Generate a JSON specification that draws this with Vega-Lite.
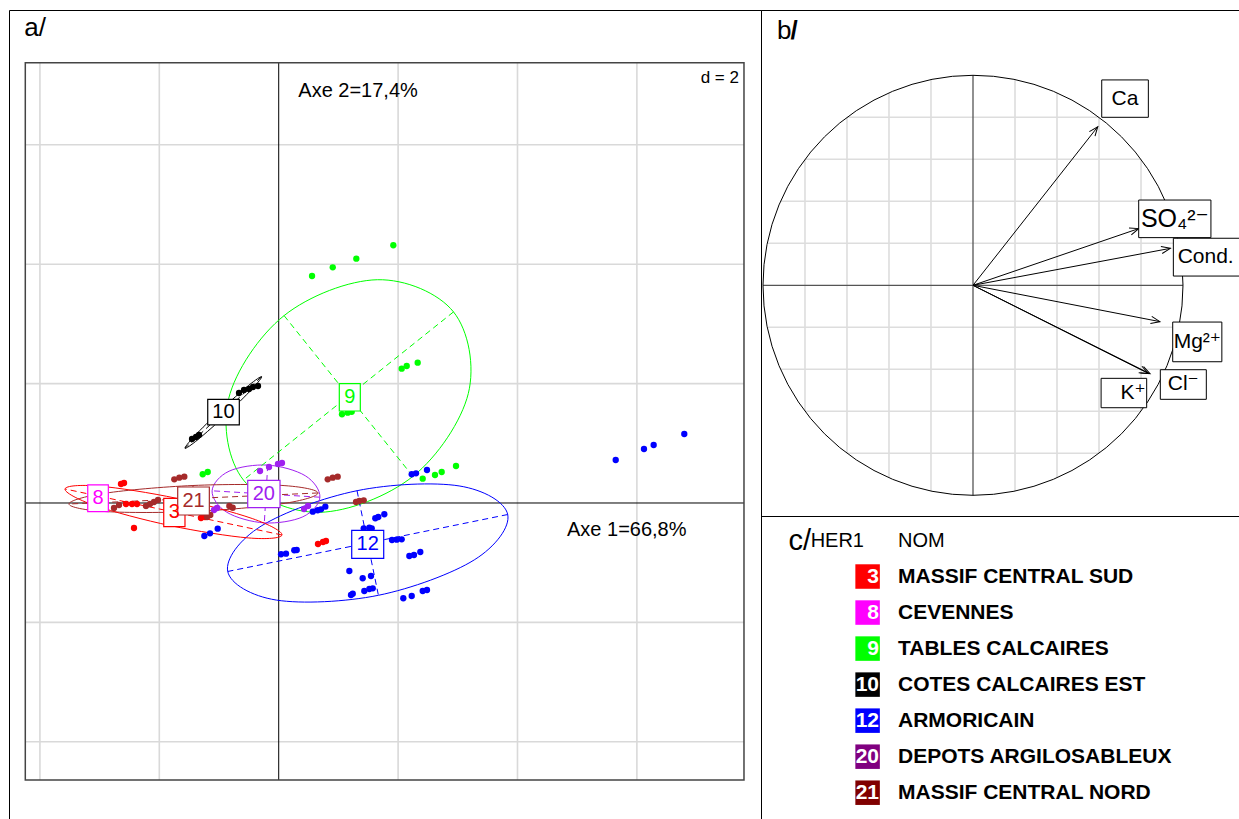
{
  "$schema": "https://vega.github.io/schema/vega-lite/v6.json",
  "background": "white",
  "padding": {"left": 8, "top": 9, "right": 0, "bottom": 0},
  "autosize": {"type": "pad"},
  "config": {
    "view": {"stroke": "#000000", "strokeWidth": 1},
    "concat": {"spacing": 0},
    "font": "Liberation Sans"
  },
  "datasets": {
    "pts": [
      {"g": "8", "x": -3.06, "y": 0.084}, {"g": "8", "x": -2.993, "y": 0.067},
      {"g": "3", "x": -2.642, "y": 0.318}, {"g": "3", "x": -2.591, "y": 0.335}, {"g": "3", "x": -2.558, "y": -0.017}, {"g": "3", "x": -2.457, "y": -0.017}, {"g": "3", "x": -2.374, "y": -0.017}, {"g": "3", "x": -2.424, "y": -0.419}, {"g": "3", "x": -1.302, "y": -0.251}, {"g": "3", "x": -1.235, "y": -0.235}, {"g": "3", "x": 0.658, "y": -0.687}, {"g": "3", "x": 0.742, "y": -0.653}, {"g": "3", "x": 0.792, "y": -0.637},
      {"g": "9", "x": 0.558, "y": 3.802}, {"g": "9", "x": 0.905, "y": 3.948}, {"g": "9", "x": 1.3, "y": 4.092}, {"g": "9", "x": 1.92, "y": 4.317}, {"g": "9", "x": 2.06, "y": 2.25}, {"g": "9", "x": 2.144, "y": 2.295}, {"g": "9", "x": 2.328, "y": 2.35}, {"g": "9", "x": 1.06, "y": 1.486}, {"g": "9", "x": 1.156, "y": 1.513}, {"g": "9", "x": 1.223, "y": 1.529}, {"g": "9", "x": 2.412, "y": 0.407}, {"g": "9", "x": 2.618, "y": 0.469}, {"g": "9", "x": 2.73, "y": 0.519}, {"g": "9", "x": 2.97, "y": 0.62}, {"g": "9", "x": -1.273, "y": 0.481}, {"g": "9", "x": -1.189, "y": 0.519},
      {"g": "10", "x": -0.665, "y": 1.843}, {"g": "10", "x": -0.581, "y": 1.893}, {"g": "10", "x": -0.497, "y": 1.91}, {"g": "10", "x": -0.43, "y": 1.943}, {"g": "10", "x": -0.347, "y": 1.96}, {"g": "10", "x": -1.452, "y": 1.072}, {"g": "10", "x": -1.385, "y": 1.106}, {"g": "10", "x": -1.335, "y": 1.139},
      {"g": "12", "x": 2.228, "y": 0.481}, {"g": "12", "x": 2.3, "y": 0.497}, {"g": "12", "x": 2.484, "y": 0.553}, {"g": "12", "x": 0.57, "y": -0.146}, {"g": "12", "x": 0.653, "y": -0.122}, {"g": "12", "x": 0.709, "y": -0.106}, {"g": "12", "x": 0.781, "y": -0.062}, {"g": "12", "x": 1.618, "y": -0.256}, {"g": "12", "x": 1.668, "y": -0.235}, {"g": "12", "x": 1.769, "y": -0.189}, {"g": "12", "x": 1.424, "y": -0.424}, {"g": "12", "x": 1.518, "y": -0.414}, {"g": "12", "x": 1.558, "y": -0.424}, {"g": "12", "x": 1.898, "y": -0.62}, {"g": "12", "x": 1.977, "y": -0.615}, {"g": "12", "x": 2.06, "y": -0.608}, {"g": "12", "x": 0.039, "y": -0.859}, {"g": "12", "x": 0.122, "y": -0.849}, {"g": "12", "x": 0.261, "y": -0.792}, {"g": "12", "x": 0.302, "y": -0.787}, {"g": "12", "x": 2.188, "y": -0.888}, {"g": "12", "x": 2.266, "y": -0.871}, {"g": "12", "x": 2.372, "y": -0.821}, {"g": "12", "x": 1.183, "y": -1.139}, {"g": "12", "x": 1.407, "y": -1.261}, {"g": "12", "x": 1.546, "y": -1.223}, {"g": "12", "x": 1.24, "y": -1.519}, {"g": "12", "x": 1.211, "y": -1.541}, {"g": "12", "x": 1.434, "y": -1.474}, {"g": "12", "x": 1.518, "y": -1.441}, {"g": "12", "x": 1.575, "y": -1.429}, {"g": "12", "x": 2.087, "y": -1.596}, {"g": "12", "x": 2.228, "y": -1.558}, {"g": "12", "x": 2.412, "y": -1.474}, {"g": "12", "x": 2.484, "y": -1.457}, {"g": "12", "x": -1.246, "y": -0.553}, {"g": "12", "x": -1.151, "y": -0.508}, {"g": "12", "x": -1.022, "y": -0.43}, {"g": "12", "x": 5.645, "y": 0.72}, {"g": "12", "x": 6.119, "y": 0.905}, {"g": "12", "x": 6.281, "y": 0.972}, {"g": "12", "x": 6.794, "y": 1.156},
      {"g": "20", "x": -0.313, "y": 0.536}, {"g": "20", "x": -0.162, "y": 0.603}, {"g": "20", "x": -0.012, "y": 0.653}, {"g": "20", "x": 0.055, "y": 0.67}, {"g": "20", "x": -1.084, "y": -0.117}, {"g": "20", "x": -1.034, "y": -0.084}, {"g": "20", "x": 0.424, "y": -0.101}, {"g": "20", "x": 0.491, "y": -0.05},
      {"g": "21", "x": -1.749, "y": 0.397}, {"g": "21", "x": -1.665, "y": 0.424}, {"g": "21", "x": -1.581, "y": 0.441}, {"g": "21", "x": -2.759, "y": -0.084}, {"g": "21", "x": -2.675, "y": -0.034}, {"g": "21", "x": -2.223, "y": -0.05}, {"g": "21", "x": -2.156, "y": -0.017}, {"g": "21", "x": -2.089, "y": 0.017}, {"g": "21", "x": -2.022, "y": 0.05}, {"g": "21", "x": -0.827, "y": -0.05}, {"g": "21", "x": -0.771, "y": -0.079}, {"g": "21", "x": -1.146, "y": -0.201}, {"g": "21", "x": -1.201, "y": -0.235}, {"g": "21", "x": 0.821, "y": 0.397}, {"g": "21", "x": 0.905, "y": 0.424}, {"g": "21", "x": 0.988, "y": 0.441}, {"g": "21", "x": 1.295, "y": 0.017}, {"g": "21", "x": 1.35, "y": 0.034}, {"g": "21", "x": 1.424, "y": 0.045}
    ],
    "ell": [
      {"g": "9", "i": 0, "x": 2.928, "y": 3.201}, {"g": "9", "i": 1, "x": 1.652, "y": 3.74}, {"g": "9", "i": 2, "x": 0.09, "y": 3.139}, {"g": "9", "i": 3, "x": -0.838, "y": 1.75}, {"g": "9", "i": 4, "x": -0.59, "y": 0.384}, {"g": "9", "i": 5, "x": 0.687, "y": -0.156}, {"g": "9", "i": 6, "x": 2.248, "y": 0.446}, {"g": "9", "i": 7, "x": 3.176, "y": 1.834},
      {"g": "12", "i": 0, "x": 3.836, "y": -0.193}, {"g": "12", "i": 1, "x": 3.022, "y": 0.286}, {"g": "12", "i": 2, "x": 1.312, "y": 0.206}, {"g": "12", "i": 3, "x": -0.295, "y": -0.387}, {"g": "12", "i": 4, "x": -0.854, "y": -1.147}, {"g": "12", "i": 5, "x": -0.04, "y": -1.626}, {"g": "12", "i": 6, "x": 1.67, "y": -1.546}, {"g": "12", "i": 7, "x": 3.276, "y": -0.953},
      {"g": "20", "i": 0, "x": 0.69, "y": 0.097}, {"g": "20", "i": 1, "x": 0.446, "y": 0.456}, {"g": "20", "i": 2, "x": -0.184, "y": 0.635}, {"g": "20", "i": 3, "x": -0.831, "y": 0.533}, {"g": "20", "i": 4, "x": -1.116, "y": 0.204}, {"g": "20", "i": 5, "x": -0.871, "y": -0.154}, {"g": "20", "i": 6, "x": -0.241, "y": -0.333}, {"g": "20", "i": 7, "x": 0.405, "y": -0.231},
      {"g": "21", "i": 0, "x": 0.658, "y": 0.168}, {"g": "21", "i": 1, "x": 0.04, "y": 0.295}, {"g": "21", "i": 2, "x": -1.437, "y": 0.293}, {"g": "21", "i": 3, "x": -2.908, "y": 0.164}, {"g": "21", "i": 4, "x": -3.513, "y": -0.017}, {"g": "21", "i": 5, "x": -2.894, "y": -0.144}, {"g": "21", "i": 6, "x": -1.417, "y": -0.142}, {"g": "21", "i": 7, "x": 0.054, "y": -0.013},
      {"g": "3", "i": 0, "x": 0.055, "y": -0.536}, {"g": "3", "i": 1, "x": -0.444, "y": -0.26}, {"g": "3", "i": 2, "x": -1.714, "y": 0.079}, {"g": "3", "i": 3, "x": -3.013, "y": 0.283}, {"g": "3", "i": 4, "x": -3.58, "y": 0.235}, {"g": "3", "i": 5, "x": -3.08, "y": -0.042}, {"g": "3", "i": 6, "x": -1.811, "y": -0.38}, {"g": "3", "i": 7, "x": -0.511, "y": -0.585},
      {"g": "10", "i": 0, "x": -0.286, "y": 2.116}, {"g": "10", "i": 1, "x": -0.503, "y": 1.97}, {"g": "10", "i": 2, "x": -0.968, "y": 1.559}, {"g": "10", "i": 3, "x": -1.41, "y": 1.122}, {"g": "10", "i": 4, "x": -1.57, "y": 0.916}, {"g": "10", "i": 5, "x": -1.353, "y": 1.062}, {"g": "10", "i": 6, "x": -0.888, "y": 1.472}, {"g": "10", "i": 7, "x": -0.446, "y": 1.91}
    ],
    "eax": [
      {"g": "9", "x": 2.928, "y": 3.201, "x2": -0.59, "y2": 0.384}, {"g": "9", "x": 0.09, "y": 3.139, "x2": 2.248, "y2": 0.446},
      {"g": "12", "x": 3.836, "y": -0.193, "x2": -0.854, "y2": -1.147}, {"g": "12", "x": 1.312, "y": 0.206, "x2": 1.67, "y2": -1.546},
      {"g": "20", "x": 0.69, "y": 0.097, "x2": -1.116, "y2": 0.204}, {"g": "20", "x": -0.184, "y": 0.635, "x2": -0.241, "y2": -0.333},
      {"g": "21", "x": 0.658, "y": 0.168, "x2": -3.513, "y2": -0.017}, {"g": "21", "x": -1.437, "y": 0.293, "x2": -1.417, "y2": -0.142},
      {"g": "3", "x": 0.055, "y": -0.536, "x2": -3.58, "y2": 0.235}, {"g": "3", "x": -1.714, "y": 0.079, "x2": -1.811, "y2": -0.38},
      {"g": "10", "x": -0.286, "y": 2.116, "x2": -1.57, "y2": 0.916}, {"g": "10", "x": -0.968, "y": 1.559, "x2": -0.888, "y2": 1.472}
    ],
    "labs": [
      {"g": "3", "x": -1.748, "y": -0.159, "bx1": -1.926, "bx2": -1.57, "by1": -0.397, "by2": 0.079},
      {"g": "8", "x": -3.027, "y": 0.078, "bx1": -3.199, "bx2": -2.854, "by1": -0.146, "by2": 0.302},
      {"g": "9", "x": 1.191, "y": 1.77, "bx1": 1.015, "bx2": 1.367, "by1": 1.541, "by2": 1.998},
      {"g": "10", "x": -0.925, "y": 1.522, "bx1": -1.189, "bx2": -0.66, "by1": 1.307, "by2": 1.737},
      {"g": "12", "x": 1.491, "y": -0.692, "bx1": 1.223, "bx2": 1.759, "by1": -0.926, "by2": -0.457},
      {"g": "20", "x": -0.249, "y": 0.151, "bx1": -0.519, "bx2": 0.022, "by1": -0.079, "by2": 0.38},
      {"g": "21", "x": -1.427, "y": 0.034, "bx1": -1.692, "bx2": -1.162, "by1": -0.201, "by2": 0.268}
    ],
    "agrid": [
      {"x": -4, "y": -4.64, "x2": -4, "y2": 7.375}, {"x": -2, "y": -4.64, "x2": -2, "y2": 7.375}, {"x": 2, "y": -4.64, "x2": 2, "y2": 7.375}, {"x": 4, "y": -4.64, "x2": 4, "y2": 7.375}, {"x": 6, "y": -4.64, "x2": 6, "y2": 7.375},
      {"x": -4.245, "y": -4, "x2": 7.794, "y2": -4}, {"x": -4.245, "y": -2, "x2": 7.794, "y2": -2}, {"x": -4.245, "y": 2, "x2": 7.794, "y2": 2}, {"x": -4.245, "y": 4, "x2": 7.794, "y2": 4}, {"x": -4.245, "y": 6, "x2": 7.794, "y2": 6}
    ],
    "aaxes": [
      {"x": 0, "y": -4.64, "x2": 0, "y2": 7.375}, {"x": -4.245, "y": 0, "x2": 7.794, "y2": 0}
    ],
    "aframe": [{"x": -4.245, "y": -4.64, "x2": 7.794, "y2": 7.375}],
    "atext": [
      {"t": "Axe 2=17,4%", "x": 0.328, "y": 6.801},
      {"t": "Axe 1=66,8%", "x": 4.829, "y": -0.553}
    ],
    "bgrid": [
      {"x": -0.8, "y": -0.6, "x2": -0.8, "y2": 0.6}, {"x": -0.6, "y": -0.8, "x2": -0.6, "y2": 0.8}, {"x": -0.4, "y": -0.9165, "x2": -0.4, "y2": 0.9165}, {"x": -0.2, "y": -0.9798, "x2": -0.2, "y2": 0.9798},
      {"x": 0.2, "y": -0.9798, "x2": 0.2, "y2": 0.9798}, {"x": 0.4, "y": -0.9165, "x2": 0.4, "y2": 0.9165}, {"x": 0.6, "y": -0.8, "x2": 0.6, "y2": 0.8}, {"x": 0.8, "y": -0.6, "x2": 0.8, "y2": 0.6},
      {"x": -0.6, "y": -0.8, "x2": 0.6, "y2": -0.8}, {"x": -0.8, "y": -0.6, "x2": 0.8, "y2": -0.6}, {"x": -0.9165, "y": -0.4, "x2": 0.9165, "y2": -0.4}, {"x": -0.9798, "y": -0.2, "x2": 0.9798, "y2": -0.2},
      {"x": -0.9798, "y": 0.2, "x2": 0.9798, "y2": 0.2}, {"x": -0.9165, "y": 0.4, "x2": 0.9165, "y2": 0.4}, {"x": -0.8, "y": 0.6, "x2": 0.8, "y2": 0.6}, {"x": -0.6, "y": 0.8, "x2": 0.6, "y2": 0.8}
    ],
    "baxes": [
      {"x": 0, "y": -1, "x2": 0, "y2": 1}, {"x": -1, "y": 0, "x2": 1, "y2": 0}
    ],
    "vars": [
      {"v": "Ca", "x": 0.594, "y": 0.755, "dir": 308.2},
      {"v": "SO4", "x": 0.789, "y": 0.27, "dir": 341.1},
      {"v": "Cond.", "x": 0.94, "y": 0.176, "dir": 349.4},
      {"v": "Mg", "x": 0.89, "y": -0.173, "dir": 11.0},
      {"v": "K", "x": 0.835, "y": -0.42, "dir": 26.7},
      {"v": "Cl", "x": 0.843, "y": -0.421, "dir": 26.5}
    ],
    "vlabs": [
      {"v": "Ca", "t": "Ca", "x": 0.724, "y": 0.889, "bx1": 0.613, "bx2": 0.835, "by1": 0.8, "by2": 0.978},
      {"v": "SO4", "t": "SO₄²⁻", "x": 0.961, "y": 0.317, "bx1": 0.789, "bx2": 1.133, "by1": 0.227, "by2": 0.406},
      {"v": "Cond.", "t": "Cond.", "x": 1.108, "y": 0.134, "bx1": 0.954, "bx2": 1.275, "by1": 0.044, "by2": 0.224},
      {"v": "Mg", "t": "Mg²⁺", "x": 1.068, "y": -0.269, "bx1": 0.951, "bx2": 1.185, "by1": -0.364, "by2": -0.175},
      {"v": "Cl", "t": "Cl⁻", "x": 1.001, "y": -0.472, "bx1": 0.892, "bx2": 1.111, "by1": -0.543, "by2": -0.402},
      {"v": "K", "t": "K⁺", "x": 0.762, "y": -0.513, "bx1": 0.61, "bx2": 0.827, "by1": -0.583, "by2": -0.443}
    ],
    "leg": [
      {"r": "3", "name": "MASSIF CENTRAL SUD"},
      {"r": "8", "name": "CEVENNES"},
      {"r": "9", "name": "TABLES CALCAIRES"},
      {"r": "10", "name": "COTES CALCAIRES EST"},
      {"r": "12", "name": "ARMORICAIN"},
      {"r": "20", "name": "DEPOTS ARGILOSABLEUX"},
      {"r": "21", "name": "MASSIF CENTRAL NORD"}
    ]
  },
  "resolve": {"scale": {"color": "independent", "stroke": "independent"}},
  "spacing": 0,
  "bounds": "flush",
  "hconcat": [
    {
      "width": 752,
      "height": 810,
      "encoding": {
        "x": {"field": "x", "type": "quantitative", "scale": {"domain": [-4.518, 8.079], "nice": false, "zero": false}, "axis": null},
        "y": {"field": "y", "type": "quantitative", "scale": {"domain": [-5.31, 8.258], "nice": false, "zero": false}, "axis": null}
      },
      "layer": [
        {
          "data": {"name": "agrid"},
          "mark": {"type": "rule", "color": "#D9D9D9", "strokeWidth": 1.6},
          "encoding": {"x2": {"field": "x2"}, "y2": {"field": "y2"}}
        },
        {
          "data": {"name": "aaxes"},
          "mark": {"type": "rule", "color": "#000000", "strokeWidth": 1},
          "encoding": {"x2": {"field": "x2"}, "y2": {"field": "y2"}}
        },
        {
          "data": {"name": "ell"},
          "mark": {"type": "line", "interpolate": "cardinal-closed", "strokeWidth": 1},
          "encoding": {
            "color": {"field": "g", "type": "nominal", "scale": {"domain": ["3", "8", "9", "10", "12", "20", "21"], "range": ["#FF0000", "#FF00FF", "#00FF00", "#000000", "#0000FF", "#A020F0", "#A52A2A"]}, "legend": null},
            "order": {"field": "i", "type": "quantitative"}
          }
        },
        {
          "data": {"name": "eax"},
          "mark": {"type": "rule", "strokeWidth": 1, "strokeDash": [6, 4]},
          "encoding": {
            "x2": {"field": "x2"}, "y2": {"field": "y2"},
            "color": {"field": "g", "type": "nominal", "scale": {"domain": ["3", "8", "9", "10", "12", "20", "21"], "range": ["#FF0000", "#FF00FF", "#00FF00", "#000000", "#0000FF", "#A020F0", "#A52A2A"]}, "legend": null}
          }
        },
        {
          "data": {"name": "pts"},
          "mark": {"type": "point", "filled": true, "size": 40, "opacity": 1},
          "encoding": {
            "color": {"field": "g", "type": "nominal", "scale": {"domain": ["3", "8", "9", "10", "12", "20", "21"], "range": ["#FF0000", "#FF00FF", "#00FF00", "#000000", "#0000FF", "#A020F0", "#A52A2A"]}, "legend": null}
          }
        },
        {
          "data": {"name": "labs"},
          "mark": {"type": "rect", "fill": "#FFFFFF", "strokeWidth": 1.2},
          "encoding": {
            "x": {"field": "bx1", "type": "quantitative"},
            "x2": {"field": "bx2"},
            "y": {"field": "by1", "type": "quantitative"},
            "y2": {"field": "by2"},
            "stroke": {"field": "g", "type": "nominal", "scale": {"domain": ["3", "8", "9", "10", "12", "20", "21"], "range": ["#FF0000", "#FF00FF", "#00FF00", "#000000", "#0000FF", "#A020F0", "#A52A2A"]}, "legend": null}
          }
        },
        {
          "data": {"name": "labs"},
          "mark": {"type": "text", "fontSize": 20, "align": "center", "baseline": "middle", "font": "Liberation Sans"},
          "encoding": {
            "text": {"field": "g"},
            "color": {"field": "g", "type": "nominal", "scale": {"domain": ["3", "8", "9", "10", "12", "20", "21"], "range": ["#FF0000", "#FF00FF", "#00FF00", "#000000", "#0000FF", "#A020F0", "#A52A2A"]}, "legend": null}
          }
        },
        {
          "data": {"name": "aframe"},
          "mark": {"type": "rect", "filled": false, "stroke": "#444444", "strokeWidth": 1.5},
          "encoding": {"x2": {"field": "x2"}, "y2": {"field": "y2"}}
        },
        {
          "data": {"name": "atext"},
          "mark": {"type": "text", "fontSize": 20, "align": "left", "baseline": "alphabetic", "color": "#000000", "font": "Liberation Sans"},
          "encoding": {"text": {"field": "t"}}
        },
        {
          "data": {"values": [{"t": "d = 2", "x": 7.71, "y": 7.12}]},
          "mark": {"type": "text", "fontSize": 17, "align": "right", "baseline": "middle", "color": "#000000", "font": "Liberation Sans"},
          "encoding": {"text": {"field": "t"}}
        },
        {
          "data": {"values": [{"t": "a/", "x": -4.261, "y": 7.822}]},
          "mark": {"type": "text", "fontSize": 26, "align": "left", "baseline": "alphabetic", "color": "#000000", "font": "Liberation Sans"},
          "encoding": {"text": {"field": "t"}}
        }
      ]
    },
    {
      "spacing": 0,
      "bounds": "flush",
      "resolve": {"scale": {"color": "independent"}},
      "vconcat": [
        {
          "width": 479,
          "height": 506,
          "encoding": {
            "x": {"field": "x", "type": "quantitative", "scale": {"domain": [-1.0095, 1.2714], "nice": false, "zero": false}, "axis": null},
            "y": {"field": "y", "type": "quantitative", "scale": {"domain": [-1.0986, 1.311], "nice": false, "zero": false}, "axis": null}
          },
          "layer": [
            {
              "data": {"name": "bgrid"},
              "mark": {"type": "rule", "color": "#DDDDDD", "strokeWidth": 1.6},
              "encoding": {"x2": {"field": "x2"}, "y2": {"field": "y2"}}
            },
            {
              "data": {"name": "baxes"},
              "mark": {"type": "rule", "color": "#555555", "strokeWidth": 1.3},
              "encoding": {"x2": {"field": "x2"}, "y2": {"field": "y2"}}
            },
            {
              "data": {"values": [{"x": 0, "y": 0}]},
              "mark": {"type": "point", "shape": "circle", "size": 176400, "filled": false, "color": "#000000", "strokeWidth": 1, "opacity": 1},
              "encoding": {}
            },
            {
              "data": {"name": "vars"},
              "mark": {"type": "rule", "color": "#000000", "strokeWidth": 1},
              "encoding": {"x2": {"datum": 0}, "y2": {"datum": 0}}
            },
            {
              "data": {"name": "vars"},
              "mark": {"type": "point", "shape": "M-1,-0.4L0,0L-1,0.4", "size": 324, "filled": false, "color": "#000000", "strokeWidth": 1, "opacity": 1},
              "encoding": {
                "angle": {"field": "dir", "type": "quantitative", "scale": {"domain": [0, 360], "range": [0, 360]}}
              }
            },
            {
              "data": {"name": "vlabs"},
              "mark": {"type": "rect", "fill": "#FFFFFF", "stroke": "#000000", "strokeWidth": 1, "clip": true},
              "encoding": {
                "x": {"field": "bx1", "type": "quantitative"},
                "x2": {"field": "bx2"},
                "y": {"field": "by1", "type": "quantitative"},
                "y2": {"field": "by2"}
              }
            },
            {
              "data": {"name": "vlabs"},
              "transform": [{"filter": "datum.v != 'SO4'"}],
              "mark": {"type": "text", "fontSize": 21, "align": "center", "baseline": "middle", "color": "#000000", "font": "Liberation Sans, DejaVu Sans"},
              "encoding": {"text": {"field": "t"}}
            },
            {
              "data": {"name": "vlabs"},
              "transform": [{"filter": "datum.v == 'SO4'"}],
              "mark": {"type": "text", "fontSize": 25, "align": "center", "baseline": "middle", "color": "#000000", "font": "Liberation Sans, DejaVu Sans"},
              "encoding": {"text": {"field": "t"}}
            },
            {
              "data": {"values": [{"t": "b", "x": -0.933, "y": 1.171}]},
              "mark": {"type": "text", "fontSize": 26, "align": "left", "baseline": "alphabetic", "color": "#000000", "font": "Liberation Sans"},
              "encoding": {"text": {"field": "t"}}
            },
            {
              "data": {"values": [{"t": "/", "x": -0.869, "y": 1.171}]},
              "mark": {"type": "text", "fontSize": 26, "fontWeight": "bold", "align": "left", "baseline": "alphabetic", "color": "#000000", "font": "Liberation Sans"},
              "encoding": {"text": {"field": "t"}}
            }
          ]
        },
        {
          "width": 479,
          "height": 304,
          "encoding": {
            "y": {"field": "r", "type": "nominal", "scale": {"type": "point", "domain": ["head", "3", "8", "9", "10", "12", "20", "21"], "range": [24.5, 276.7], "padding": 0}, "axis": null}
          },
          "layer": [
            {
              "data": {"name": "leg"},
              "mark": {"type": "point", "shape": "square", "filled": true, "size": 600, "xOffset": -12.4, "opacity": 1},
              "encoding": {
                "x": {"datum": "HER1", "type": "nominal", "scale": {"type": "point", "domain": ["HER1", "NOM"], "range": [119, 137], "padding": 0}, "axis": null},
                "color": {"field": "r", "type": "nominal", "scale": {"domain": ["3", "8", "9", "10", "12", "20", "21"], "range": ["#FF0000", "#FF00FF", "#00FF00", "#000000", "#0000FF", "#800080", "#800000"]}, "legend": null}
              }
            },
            {
              "data": {"name": "leg"},
              "mark": {"type": "text", "fontSize": 21, "fontWeight": "bold", "align": "right", "baseline": "middle", "dx": -1, "color": "#FFFFFF", "font": "Liberation Sans"},
              "encoding": {
                "x": {"datum": "HER1", "type": "nominal", "scale": {"type": "point", "domain": ["HER1", "NOM"], "range": [119, 137], "padding": 0}, "axis": null},
                "text": {"field": "r"}
              }
            },
            {
              "data": {"name": "leg"},
              "mark": {"type": "text", "fontSize": 21, "fontWeight": "bold", "align": "left", "baseline": "middle", "color": "#000000", "font": "Liberation Sans"},
              "encoding": {
                "x": {"datum": "NOM", "type": "nominal", "scale": {"type": "point", "domain": ["HER1", "NOM"], "range": [119, 137], "padding": 0}, "axis": null},
                "text": {"field": "name"}
              }
            },
            {
              "data": {"values": [{"r": "head", "t": "NOM"}]},
              "mark": {"type": "text", "fontSize": 20, "align": "left", "baseline": "middle", "color": "#000000", "font": "Liberation Sans"},
              "encoding": {
                "x": {"datum": "NOM", "type": "nominal", "scale": {"type": "point", "domain": ["HER1", "NOM"], "range": [119, 137], "padding": 0}, "axis": null},
                "text": {"field": "t"}
              }
            },
            {
              "data": {"values": [{"r": "head", "t": "HER1"}]},
              "mark": {"type": "text", "fontSize": 20, "align": "right", "baseline": "middle", "dx": -16, "color": "#000000", "font": "Liberation Sans"},
              "encoding": {
                "x": {"datum": "HER1", "type": "nominal", "scale": {"type": "point", "domain": ["HER1", "NOM"], "range": [119, 137], "padding": 0}, "axis": null},
                "text": {"field": "t"}
              }
            },
            {
              "data": {"values": [{"r": "head", "t": "c/"}]},
              "mark": {"type": "text", "fontSize": 29, "align": "right", "baseline": "middle", "dx": -69, "color": "#000000", "font": "Liberation Sans"},
              "encoding": {
                "x": {"datum": "HER1", "type": "nominal", "scale": {"type": "point", "domain": ["HER1", "NOM"], "range": [119, 137], "padding": 0}, "axis": null},
                "text": {"field": "t"}
              }
            }
          ]
        }
      ]
    }
  ]
}
